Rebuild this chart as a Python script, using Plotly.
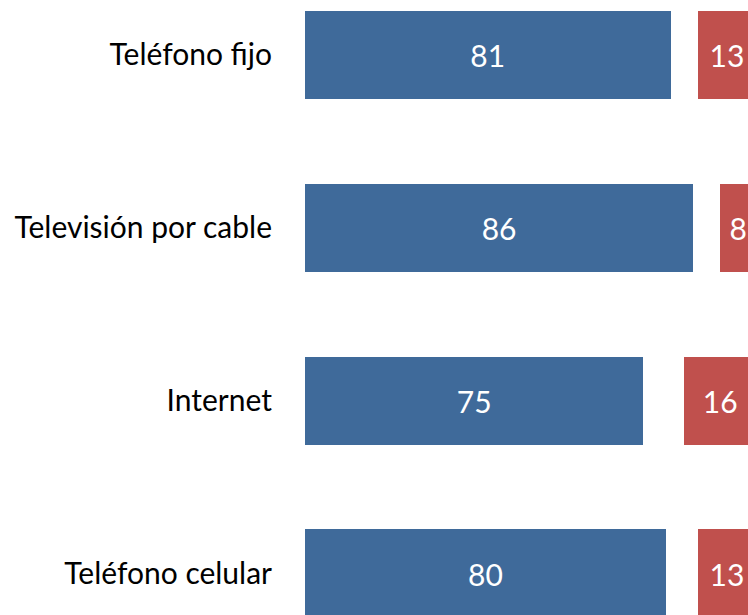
import plotly.graph_objects as go

categorias = ["Teléfono celular", "Internet", "Televisión por cable", "Teléfono fijo"]
si = [80, 75, 86, 81]
ns_nr = [7, 9, 6, 6]
no = [13, 16, 8, 13]

AZUL = "#3F6A9A"
ROJO = "#C0504D"
FONT = "Lato"
FS = 30

fig = go.Figure()
fig.add_trace(go.Bar(
    y=categorias, x=si, orientation="h", name="Sí",
    marker=dict(color=AZUL, line=dict(width=0)),
    text=[str(v) for v in si], textposition="inside", insidetextanchor="middle",
    textfont=dict(color="white", size=FS, family=FONT), width=0.51,
))
fig.add_trace(go.Bar(
    y=categorias, x=ns_nr, orientation="h", name="NS/NR",
    marker=dict(color="rgba(0,0,0,0)", line=dict(width=0)),
    hoverinfo="skip", width=0.51,
))
fig.add_trace(go.Bar(
    y=categorias, x=no, orientation="h", name="No",
    marker=dict(color=ROJO, line=dict(width=0)),
    text=[str(v) for v in no], textposition="inside", insidetextanchor="middle",
    textfont=dict(color="white", size=FS, family=FONT), width=0.51,
))

fig.update_layout(
    barmode="stack",
    width=748, height=615,
    margin=dict(l=305, r=0, t=0, b=0),
    paper_bgcolor="white", plot_bgcolor="white",
    showlegend=False,
    font=dict(family=FONT, size=FS, color="black"),
    uniformtext=dict(mode="show", minsize=10),
)
fig.update_xaxes(range=[0, 443 / 4.513], visible=False)
fig.update_yaxes(
    type="category", categoryorder="array", categoryarray=categorias,
    range=[-0.24, 3.318], showgrid=False, showline=False, ticks="",
    ticklabelstandoff=32, tickfont=dict(size=FS, family=FONT, color="black"),
)
fig.write_html(
    "out.html",
    config={"displayModeBar": False},
    post_script="document.body.style.margin='0';document.body.style.overflow='hidden';",
)
